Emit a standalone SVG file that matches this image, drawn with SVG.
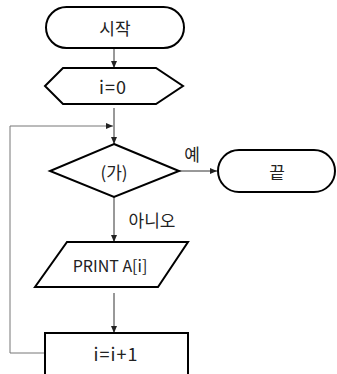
<svg xmlns="http://www.w3.org/2000/svg" width="337" height="374" viewBox="0 0 337 374">
<defs>
<marker id="ah" markerWidth="8" markerHeight="8" refX="7" refY="4" orient="auto" markerUnits="userSpaceOnUse">
<path d="M0,1 L7,4 L0,7 Z" fill="#222"/>
</marker>
</defs>
<style>
.shape{fill:#fff;stroke:#000;stroke-width:2}
.conn{fill:none;stroke:#333;stroke-width:1}
.loop{fill:none;stroke:#777;stroke-width:1}
text{font-family:"Noto Sans CJK KR","Noto Sans",sans-serif;font-size:16px;fill:#222;text-anchor:middle;dominant-baseline:central}
.big{font-size:18px;letter-spacing:1px}
.ko{font-size:17px}
</style>
<rect width="337" height="374" fill="#fff"/>
<g id="connectors">
<line class="conn" x1="114" y1="48" x2="114" y2="68" marker-end="url(#ah)"/>
<line class="conn" x1="114" y1="108" x2="114" y2="144" marker-end="url(#ah)"/>
<polyline class="loop" points="45,353 10,353 10,126 113,126" marker-end="url(#ah)"/>
<line class="conn" x1="179" y1="171" x2="217" y2="171" marker-end="url(#ah)"/>
<line class="conn" x1="114" y1="197" x2="114" y2="242" marker-end="url(#ah)"/>
<line class="conn" x1="114" y1="293" x2="114" y2="333" marker-end="url(#ah)"/>
<text class="ko" x="192" y="153">예</text>
<text class="ko" x="152" y="219">아니오</text>
</g>
<g id="start">
<rect class="shape" x="46" y="7" width="138" height="41" rx="20.5"/>
<text class="ko" x="115" y="27.5">시작</text>
</g>
<g id="init">
<polygon class="shape" points="45,86 63,68 156,68 183,86 156,104 63,104"/>
<text class="big" x="113" y="86">i=0</text>
</g>
<g id="cond">
<polygon class="shape" points="114,144 179,171 114,197 50,171"/>
<text class="ko" x="114" y="171">(가)</text>
</g>
<g id="end">
<rect class="shape" x="218" y="150" width="117" height="42" rx="21"/>
<text class="ko" x="277" y="171">끝</text>
</g>
<g id="print">
<polygon class="shape" points="67,242 188,242 158,287 35,287"/>
<text x="110" y="265">PRINT A[i]</text>
</g>
<g id="inc">
<rect class="shape" x="45" y="333" width="143" height="45"/>
<text class="big" x="116" y="353">i=i+1</text>
</g>
</svg>
